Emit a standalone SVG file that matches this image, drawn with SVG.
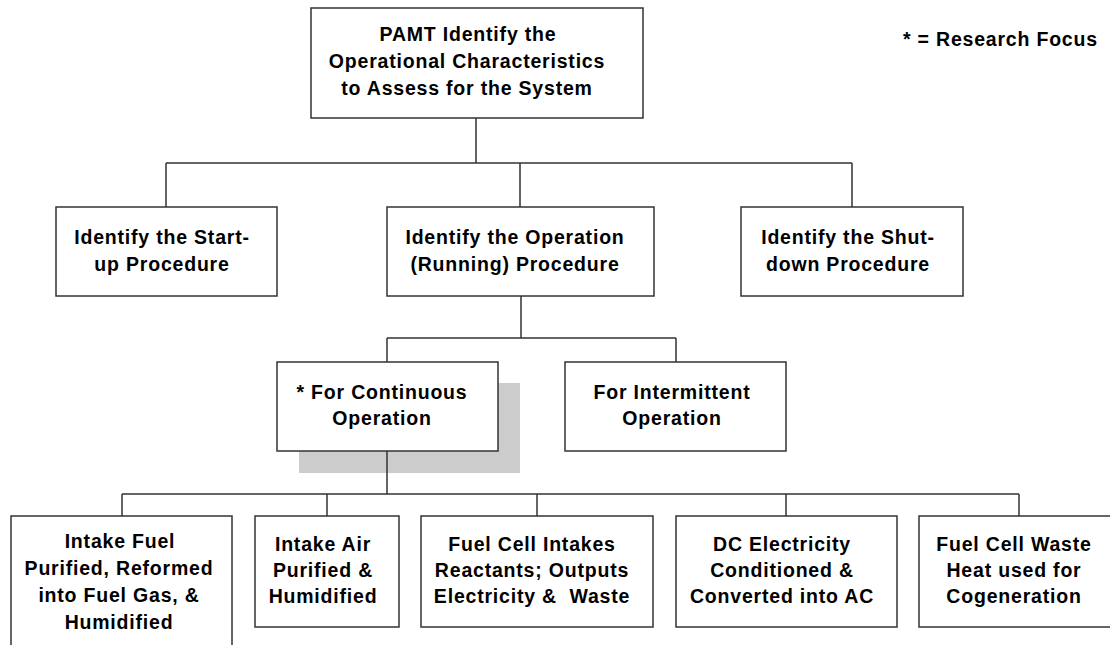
<svg xmlns="http://www.w3.org/2000/svg" width="1110" height="645" viewBox="0 0 1110 645">
<style>
.box{fill:#fff;stroke:#333;stroke-width:1.5}
.shadow{fill:#cccccc;stroke:none}
.t{font-family:"Liberation Sans",Arial,sans-serif;font-weight:bold;font-size:19.5px;letter-spacing:0.8px;fill:#000;text-anchor:middle}
.c{fill:none;stroke:#333;stroke-width:1.5}
</style>
<rect width="1110" height="645" fill="#fff"/>
<g id="connectors">
<path class="c" d="M476,118V163M166,163H852M166,163V207M520,163V207M852,163V207"/>
<path class="c" d="M521,296V338M387,338H676M387,338V362M676,338V362"/>
</g>
<g id="n_root">
<rect class="box" x="311" y="8" width="332" height="110"/>
<text class="t" x="468" y="41">PAMT Identify the</text>
<text class="t" x="467" y="68">Operational Characteristics</text>
<text class="t" x="467" y="95">to Assess for the System</text>
</g>
<g id="n_startup">
<rect class="box" x="56" y="207" width="221" height="89"/>
<text class="t" x="162" y="244">Identify the Start-</text>
<text class="t" x="162" y="271">up Procedure</text>
</g>
<g id="n_operation">
<rect class="box" x="387" y="207" width="267" height="89"/>
<text class="t" x="515" y="244">Identify the Operation</text>
<text class="t" x="515" y="271">(Running) Procedure</text>
</g>
<g id="n_shutdown">
<rect class="box" x="741" y="207" width="222" height="89"/>
<text class="t" x="848" y="244">Identify the Shut-</text>
<text class="t" x="848" y="271">down Procedure</text>
</g>
<g id="n_continuous">
<rect class="shadow" x="299" y="383" width="221" height="90"/>
<rect class="box" x="277" y="362" width="221" height="89"/>
<text class="t" x="382" y="399">* For Continuous</text>
<text class="t" x="382" y="425">Operation</text>
</g>
<g id="n_intermittent">
<rect class="box" x="565" y="362" width="221" height="89"/>
<text class="t" x="672" y="399">For Intermittent</text>
<text class="t" x="672" y="425">Operation</text>
</g>
<g id="connectors2">
<path class="c" d="M387,451V494M122,494H1019M122,494V516M327,494V516M537,494V516M786,494V516M1019,494V516"/>
</g>
<g id="n_fuel">
<rect class="box" x="11" y="516" width="221" height="140"/>
<text class="t" x="120" y="548">Intake Fuel</text>
<text class="t" x="119" y="575">Purified, Reformed</text>
<text class="t" x="119" y="602">into Fuel Gas, &amp;</text>
<text class="t" x="119" y="629">Humidified</text>
</g>
<g id="n_air">
<rect class="box" x="255" y="516" width="144" height="111"/>
<text class="t" x="323" y="551">Intake Air</text>
<text class="t" x="323" y="577">Purified &amp;</text>
<text class="t" x="323" y="603">Humidified</text>
</g>
<g id="n_cell">
<rect class="box" x="421" y="516" width="232" height="111"/>
<text class="t" x="532" y="551">Fuel Cell Intakes</text>
<text class="t" x="532" y="577">Reactants; Outputs</text>
<text class="t" x="532" y="603" xml:space="preserve">Electricity &amp;  Waste</text>
</g>
<g id="n_dc">
<rect class="box" x="676" y="516" width="221" height="111"/>
<text class="t" x="782" y="551">DC Electricity</text>
<text class="t" x="782" y="577">Conditioned &amp;</text>
<text class="t" x="782" y="603">Converted into AC</text>
</g>
<g id="n_heat">
<rect class="box" x="919" y="516" width="200" height="111"/>
<text class="t" x="1014" y="551">Fuel Cell Waste</text>
<text class="t" x="1014" y="577">Heat used for</text>
<text class="t" x="1014" y="603">Cogeneration</text>
</g>
<g id="legend">
<text class="t" x="903" y="46" style="text-anchor:start">* = Research Focus</text>
</g>
</svg>
